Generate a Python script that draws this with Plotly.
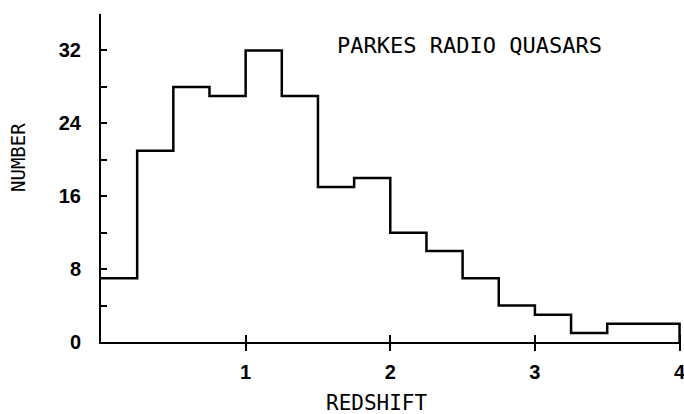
import plotly.graph_objects as go

# Data
bin_edges = [0.0, 0.25, 0.5, 0.75, 1.0, 1.25, 1.5, 1.75, 2.0, 2.25, 2.5, 2.75, 3.0, 3.25, 3.5, 3.75, 4.0]
counts = [7, 21, 28, 27, 32, 27, 17, 18, 12, 10, 7, 4, 3, 1, 2, 2]
x_tick_vals = [1, 2, 3, 4]
y_tick_vals = [0, 4, 8, 12, 16, 20, 24, 28, 32, 36]
y_tick_text = ["0", "", "8", "", "16", "", "24", "", "32", ""]
title_text = "PARKES RADIO QUASARS"
x_title = "REDSHIFT"
y_title = "NUMBER"

step_x = list(bin_edges) + [bin_edges[-1]]
step_y = list(counts) + [counts[-1], 0]

fig = go.Figure()
fig.add_trace(go.Scatter(
    x=step_x, y=step_y, mode="lines", line=dict(shape="hv", color="black", width=2.5),
    hoverinfo="skip", showlegend=False))
# invisible trace to activate overlay axis for crossing ticks
fig.add_trace(go.Scatter(x=[1], y=[0], xaxis="x2", mode="markers",
                         marker=dict(opacity=0), showlegend=False, hoverinfo="skip"))

tickfont = dict(family="Liberation Sans", size=20, color="black", weight="bold")

fig.update_layout(
    width=684, height=414,
    margin=dict(l=101, r=3, t=14, b=72, autoexpand=False),
    paper_bgcolor="white", plot_bgcolor="white",
    xaxis=dict(range=[0, 4.01], tickvals=x_tick_vals, ticks="outside", ticklen=7, tickwidth=2,
               tickcolor="black", showline=True, linecolor="black", linewidth=2,
               showgrid=False, zeroline=False, tickfont=tickfont, ticklabelstandoff=4,
               ticklabeloverflow="allow", automargin=False),
    xaxis2=dict(range=[0, 4.01], overlaying="x", matches="x", anchor="y", side="bottom",
                tickvals=x_tick_vals, ticks="inside", ticklen=7, tickwidth=2, tickcolor="black",
                showticklabels=False, showline=False, showgrid=False, zeroline=False,
                automargin=False),
    yaxis=dict(range=[0, 36], tickvals=y_tick_vals, ticktext=y_tick_text, ticks="inside",
               ticklen=6, tickwidth=2, tickcolor="black", showline=True, linecolor="black",
               linewidth=2, showgrid=False, zeroline=False, tickfont=tickfont,
               ticklabelstandoff=14, automargin=False),
    annotations=[
        dict(text=title_text, xref="paper", yref="paper", x=0.636, y=0.905,
             xanchor="center", yanchor="middle", showarrow=False,
             font=dict(family="DejaVu Sans Mono", size=22, color="black")),
        dict(text=x_title, xref="paper", yref="paper", x=(377 - 101) / 580, y=-0.185,
             xanchor="center", yanchor="middle", showarrow=False,
             font=dict(family="DejaVu Sans Mono", size=21, color="black")),
        dict(text=y_title, xref="paper", yref="paper", x=(18 - 101) / 580, y=(342 - 158) / 328,
             xanchor="center", yanchor="middle", showarrow=False, textangle=-90,
             font=dict(family="DejaVu Sans Mono", size=19, color="black")),
    ],
)

fig.write_html("out.html", config={"displayModeBar": False},
               post_script="document.body.style.margin='0';")
